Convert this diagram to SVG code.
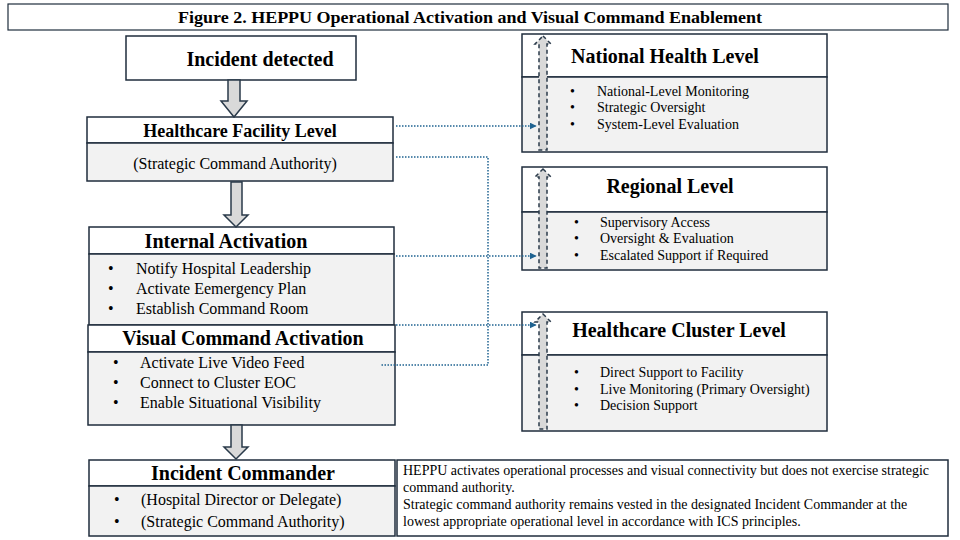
<svg xmlns="http://www.w3.org/2000/svg" width="960" height="540" viewBox="0 0 960 540">
<defs>
<style>
.box{stroke:#1f2d3d;stroke-width:1.5}
.hd{fill:#ffffff}
.bd{fill:#f2f2f2}
text{font-family:"Liberation Serif","Times New Roman",serif;fill:#000}
.t1{font-weight:bold;text-anchor:middle}
.it{font-size:16px}
.rt{font-size:14px}
.blk{fill:#d9d9d9;stroke:#2a3a4a;stroke-width:1.5}
.up{fill:#d9d9d9;stroke:#2a3a4a;stroke-width:1.5;stroke-dasharray:4 3}
.dot{fill:none;stroke:#1f6391;stroke-width:1.5;stroke-dasharray:1.5 1.5}
</style>
<marker id="ah" viewBox="0 0 10 10" refX="9" refY="5" markerWidth="7" markerHeight="7" orient="auto" markerUnits="userSpaceOnUse">
<path d="M0,0 L10,5 L0,10 z" fill="#1f6391"/>
</marker>
</defs>
<rect width="960" height="540" fill="#ffffff"/>

<g id="title">
<rect x="8" y="4" width="940" height="26" fill="#fff" stroke="#1f2d3d" stroke-width="1.2"/>
<text x="470" y="23" class="t1" font-size="16" textLength="584" lengthAdjust="spacingAndGlyphs">Figure 2. HEPPU Operational Activation and Visual Command Enablement</text>
</g>

<g id="incident-detected">
<rect x="126" y="36" width="230" height="44" class="box hd"/>
<text x="260" y="66" class="t1" font-size="20">Incident detected</text>
</g>

<g id="facility-level">
<rect x="87" y="117" width="306" height="26" class="box hd"/>
<rect x="87" y="143" width="306" height="38" class="box bd"/>
<text x="240" y="137" class="t1" font-size="18">Healthcare Facility Level</text>
<text x="235" y="169" class="it" text-anchor="middle">(Strategic Command Authority)</text>
</g>

<g id="internal-activation">
<rect x="89" y="227" width="305" height="27" class="box hd"/>
<rect x="89" y="254" width="305" height="71" class="box bd"/>
<text x="226" y="248" class="t1" font-size="20">Internal Activation</text>
<text x="108" y="274" class="it">•</text><text x="136" y="274" class="it">Notify Hospital Leadership</text>
<text x="108" y="294" class="it">•</text><text x="136" y="294" class="it">Activate Eemergency Plan</text>
<text x="108" y="314" class="it">•</text><text x="136" y="314" class="it">Establish Command Room</text>
</g>

<g id="visual-command">
<rect x="88" y="325" width="307" height="27" class="box hd"/>
<rect x="88" y="352" width="307" height="73" class="box bd"/>
<text x="243" y="345" class="t1" font-size="20">Visual Command Activation</text>
<text x="113" y="368" class="it">•</text><text x="140" y="368" class="it">Activate Live Video Feed</text>
<text x="113" y="388" class="it">•</text><text x="140" y="388" class="it">Connect to Cluster EOC</text>
<text x="113" y="408" class="it">•</text><text x="140" y="408" class="it">Enable Situational Visibility</text>
</g>

<g id="incident-commander">
<rect x="89" y="460" width="306" height="26" class="box hd"/>
<rect x="89" y="486" width="306" height="50" class="box bd"/>
<text x="243" y="480" class="t1" font-size="20">Incident Commander</text>
<text x="114" y="505" class="it">•</text><text x="141" y="505" class="it">(Hospital Director or Delegate)</text>
<text x="114" y="527" class="it">•</text><text x="141" y="527" class="it">(Strategic Command Authority)</text>
</g>

<g id="note">
<rect x="397" y="460" width="551" height="76" fill="#fff" stroke="#1f2d3d" stroke-width="1.5"/>
<text x="403" y="475" font-size="14">HEPPU activates operational processes and visual connectivity but does not exercise strategic</text>
<text x="403" y="492" font-size="14">command authority.</text>
<text x="403" y="509" font-size="14">Strategic command authority remains vested in the designated Incident Commander at the</text>
<text x="403" y="526" font-size="14">lowest appropriate operational level in accordance with ICS principles.</text>
</g>

<g id="national-level">
<rect x="522" y="34" width="305" height="43" class="box hd"/>
<rect x="522" y="77" width="305" height="75" class="box bd"/>
<text x="665" y="63" class="t1" font-size="20">National Health Level</text>
<text x="570" y="96" class="rt">•</text><text x="597" y="96" class="rt">National-Level Monitoring</text>
<text x="570" y="112" class="rt">•</text><text x="597" y="112" class="rt">Strategic Oversight</text>
<text x="570" y="129" class="rt">•</text><text x="597" y="129" class="rt">System-Level Evaluation</text>
<polygon points="543,36 551,44 547,44 547,150 539,150 539,44 535,44" class="up"/>
</g>

<g id="regional-level">
<rect x="522" y="167" width="305" height="45" class="box hd"/>
<rect x="522" y="212" width="305" height="58" class="box bd"/>
<text x="670" y="193" class="t1" font-size="20">Regional Level</text>
<text x="574" y="227" class="rt">•</text><text x="600" y="227" class="rt">Supervisory Access</text>
<text x="574" y="243" class="rt">•</text><text x="600" y="243" class="rt">Oversight &amp; Evaluation</text>
<text x="574" y="260" class="rt">•</text><text x="600" y="260" class="rt">Escalated Support if Required</text>
<polygon points="543,169 551,177 547,177 547,268 539,268 539,177 535,177" class="up"/>
</g>

<g id="cluster-level">
<rect x="522" y="312" width="305" height="43" class="box hd"/>
<rect x="522" y="355" width="305" height="76" class="box bd"/>
<text x="679" y="337" class="t1" font-size="20">Healthcare Cluster Level</text>
<text x="574" y="377" class="rt">•</text><text x="600" y="377" class="rt">Direct Support to Facility</text>
<text x="574" y="394" class="rt">•</text><text x="600" y="394" class="rt">Live Monitoring (Primary Oversight)</text>
<text x="574" y="410" class="rt">•</text><text x="600" y="410" class="rt">Decision Support</text>
<polygon points="543,314 551,322 547,322 547,429 539,429 539,322 535,322" class="up"/>
</g>

<g id="connectors">
<polygon points="228,80 240,80 240,101 247,101 234,117 221,101 228,101" class="blk"/>
<polygon points="231,182 242,182 242,215 248,215 236,227 224,215 231,215" class="blk"/>
<polygon points="231,425 242,425 242,447 248,447 236,459 224,447 231,447" class="blk"/>
<line x1="396" y1="126" x2="536" y2="126" class="dot" marker-end="url(#ah)"/>
<polyline points="396,157 488,157 488,365 380,365" class="dot"/>
<line x1="396" y1="256" x2="536" y2="256" class="dot" marker-end="url(#ah)"/>
<line x1="396" y1="325" x2="536" y2="325" class="dot" marker-end="url(#ah)"/>
</g>
</svg>
